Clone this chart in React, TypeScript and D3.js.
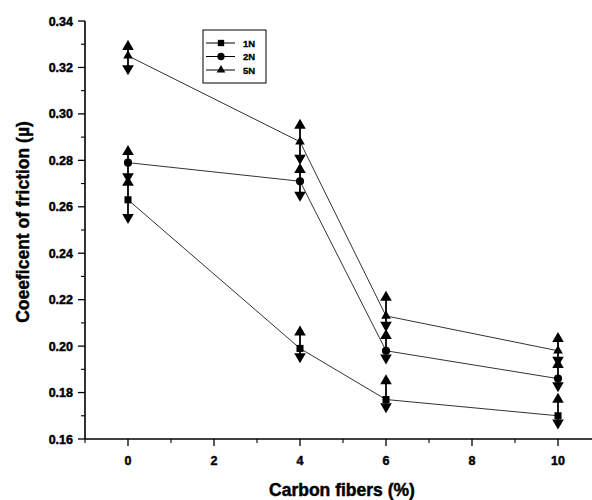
import React, { useRef, useEffect } from "react";
import * as d3 from "d3";

const carbonFibers = [0, 4, 6, 10];
const seriesNames = ["1N", "2N", "5N"];
const mu1N = [0.263, 0.199, 0.177, 0.17];
const mu2N = [0.279, 0.271, 0.198, 0.186];
const mu5N = [0.325, 0.288, 0.213, 0.198];
const errPlus1N = [0.0075, 0.007, 0.008, 0.007];
const errMinus1N = [0.0075, 0.0035, 0.003, 0.003];
const errPlus2N = [0.0047, 0.005, 0.0065, 0.006];
const errMinus2N = [0.006, 0.006, 0.003, 0.003];
const errPlus5N = [0.004, 0.007, 0.008, 0.0052];
const errMinus5N = [0.0055, 0.007, 0.004, 0.004];
const xTicks = [0, 2, 4, 6, 8, 10];
const yTicks = [0.16, 0.18, 0.2, 0.22, 0.24, 0.26, 0.28, 0.3, 0.32, 0.34];

const FONT = "'Liberation Sans', Arial, sans-serif";

const App = () => {
  const chartRef = useRef<SVGSVGElement>(null);

  useEffect(() => {
    const svg = d3.select(chartRef.current);
    svg.selectAll("*").remove();

    const width = 592;
    const height = 500;
    svg.attr("width", width).attr("height", height);

    const x = d3.scaleLinear().domain([-1, 11]).range([85, 601]);
    const y = d3.scaleLinear().domain([0.16, 0.34]).range([439, 21]);

    const series = [
      { name: seriesNames[0], values: mu1N, plus: errPlus1N, minus: errMinus1N, shape: d3.symbolSquare, size: 50 },
      { name: seriesNames[1], values: mu2N, plus: errPlus2N, minus: errMinus2N, shape: d3.symbolCircle, size: 52 },
      { name: seriesNames[2], values: mu5N, plus: errPlus5N, minus: errMinus5N, shape: d3.symbolTriangle, size: 40 },
    ];

    const g = svg.append("g");

    // bold heavy text helper (the original uses a very dark bold face)
    const heavy = (sel: any, size: number) =>
      sel
        .style("font-family", FONT)
        .style("font-weight", "bold")
        .style("font-size", `${size}px`)
        .style("fill", "#000")
        .style("stroke", "#000")
        .style("stroke-width", "0.45px");

    // axes lines
    g.append("line")
      .attr("x1", x(-1)).attr("x2", x(-1))
      .attr("y1", y(0.34)).attr("y2", y(0.16))
      .attr("stroke", "#000").attr("stroke-width", 1.6);
    g.append("line")
      .attr("x1", x(-1)).attr("x2", width)
      .attr("y1", y(0.16)).attr("y2", y(0.16))
      .attr("stroke", "#000").attr("stroke-width", 1.6);

    // y ticks (major + minor)
    const yMinor = d3.range(0.17, 0.34, 0.02);
    g.selectAll("line.ymaj").data(yTicks).enter().append("line")
      .attr("x1", x(-1) - 7).attr("x2", x(-1))
      .attr("y1", (d) => y(d)).attr("y2", (d) => y(d))
      .attr("stroke", "#000").attr("stroke-width", 1.3);
    g.selectAll("line.ymin").data(yMinor).enter().append("line")
      .attr("x1", x(-1) - 4).attr("x2", x(-1))
      .attr("y1", (d) => y(d)).attr("y2", (d) => y(d))
      .attr("stroke", "#000").attr("stroke-width", 1.1);
    heavy(
      g.selectAll("text.ylab").data(yTicks).enter().append("text")
        .attr("x", x(-1) - 12)
        .attr("y", (d) => y(d) + 4.5)
        .style("text-anchor", "end"),
      12.5
    ).text((d) => d3.format(".2f")(d));

    // x ticks
    const xMinor = [-1, 1, 3, 5, 7, 9, 11];
    g.selectAll("line.xmaj").data(xTicks).enter().append("line")
      .attr("x1", (d) => x(d)).attr("x2", (d) => x(d))
      .attr("y1", y(0.16)).attr("y2", y(0.16) + 7)
      .attr("stroke", "#000").attr("stroke-width", 1.3);
    g.selectAll("line.xmin").data(xMinor).enter().append("line")
      .attr("x1", (d) => x(d)).attr("x2", (d) => x(d))
      .attr("y1", y(0.16)).attr("y2", y(0.16) + 4)
      .attr("stroke", "#000").attr("stroke-width", 1.1);
    heavy(
      g.selectAll("text.xlab").data(xTicks).enter().append("text")
        .attr("x", (d) => x(d))
        .attr("y", 465)
        .style("text-anchor", "middle"),
      12.5
    ).text((d) => d);

    // axis titles
    heavy(
      g.append("text")
        .attr("x", 342).attr("y", 496)
        .style("text-anchor", "middle"),
      17.5
    ).text("Carbon fibers (%)");
    heavy(
      g.append("text")
        .attr("transform", "translate(29,222) rotate(-90)")
        .style("text-anchor", "middle"),
      17.5
    ).text("Coeeficent of friction (µ)");

    const line = d3.line<number>()
      .x((d, i) => x(carbonFibers[i]))
      .y((d) => y(d));

    const tri = d3.symbol().type(d3.symbolTriangle).size(58);

    series.forEach((s) => {
      g.append("path")
        .attr("d", line(s.values))
        .attr("fill", "none")
        .attr("stroke", "#333")
        .attr("stroke-width", 1);

      // error bars with arrow caps
      s.values.forEach((v, i) => {
        const cx = x(carbonFibers[i]);
        const top = y(v + s.plus[i]);
        const bot = y(v - s.minus[i]);
        g.append("line")
          .attr("x1", cx).attr("x2", cx)
          .attr("y1", top).attr("y2", bot)
          .attr("stroke", "#000").attr("stroke-width", 1.8);
        g.append("path")
          .attr("d", tri())
          .attr("transform", `translate(${cx},${top})`)
          .attr("fill", "#000");
        g.append("path")
          .attr("d", tri())
          .attr("transform", `translate(${cx},${bot}) rotate(180)`)
          .attr("fill", "#000");
      });

      g.selectAll(null).data(s.values).enter().append("path")
        .attr("d", d3.symbol().type(s.shape).size(s.size)())
        .attr("transform", (d, i) => `translate(${x(carbonFibers[i])},${y(d)})`)
        .attr("fill", "#000");
    });

    // legend
    const legend = g.append("g").attr("transform", "translate(203,30)");
    legend.append("rect")
      .attr("width", 63).attr("height", 53)
      .attr("fill", "#fff")
      .attr("stroke", "#000").attr("stroke-width", 1);
    series.forEach((s, i) => {
      const ly = 13 + i * 13.5;
      legend.append("line")
        .attr("x1", 3).attr("x2", 32)
        .attr("y1", ly).attr("y2", ly)
        .attr("stroke", "#000").attr("stroke-width", 1);
      legend.append("path")
        .attr("d", d3.symbol().type(s.shape).size(s.size * 0.8)())
        .attr("transform", `translate(18,${ly})`)
        .attr("fill", "#000");
      heavy(
        legend.append("text")
          .attr("x", 40).attr("y", ly + 3.5),
        9.5
      ).style("stroke-width", "0.3px").text(s.name);
    });
  }, []);

  return (
    <svg ref={chartRef} style={{ position: "absolute", left: 0, top: 0 }}></svg>
  );
};

export default App;
